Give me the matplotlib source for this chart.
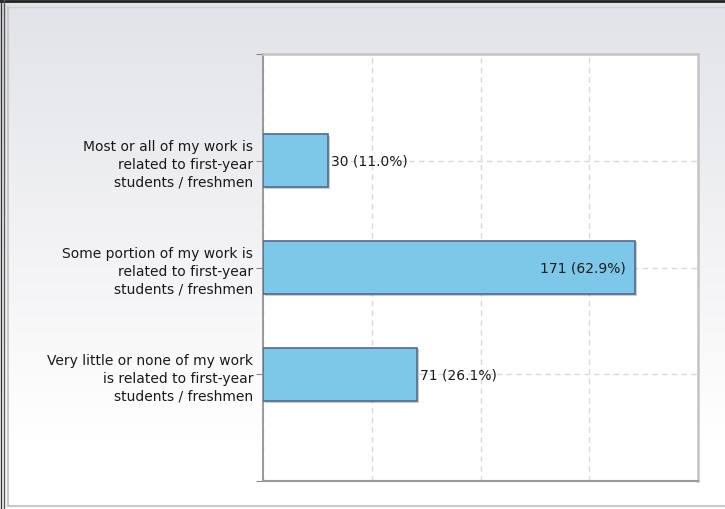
import numpy as np
import matplotlib
matplotlib.use("Agg")
import matplotlib.pyplot as plt
import matplotlib.patheffects as pe
from matplotlib.lines import Line2D

categories = [
    "Most or all of my work is\nrelated to first-year\nstudents / freshmen",
    "Some portion of my work is\nrelated to first-year\nstudents / freshmen",
    "Very little or none of my work\nis related to first-year\nstudents / freshmen",
]
counts = [30, 171, 71]
percents = [11.0, 62.9, 26.1]

plt.rcParams['font.family'] = ['DejaVu Sans']

W, H = 725, 510
fig = plt.figure(figsize=(W / 100, H / 100), dpi=100)

# background panel with vertical gradient
bg = fig.add_axes([0, 0, 1, 1], zorder=0)
grad = np.linspace(0, 1, 256).reshape(-1, 1)
top = np.array([0.886, 0.890, 0.910])
bot = np.array([1.0, 1.0, 1.0])
img = top[None, None, :] + (bot - top)[None, None, :] * np.clip(grad * 1.15, 0, 1)[:, :, None]
bg.imshow(img, aspect='auto', extent=[0, 1, 0, 1], origin='upper')
bg.set_xlim(0, 1)
bg.set_ylim(0, 1)
bg.axis('off')

# outer frame lines
fig.lines.append(Line2D([0, 1], [1 - 2 / H, 1 - 2 / H], transform=fig.transFigure, color='#222222', lw=2))
fig.lines.append(Line2D([1 / W, 1 / W], [0, 1], transform=fig.transFigure, color='#333333', lw=1))
fig.lines.append(Line2D([3.5 / W, 3.5 / W], [0, 1], transform=fig.transFigure, color='#555555', lw=1))
fig.lines.append(Line2D([7.5 / W, 7.5 / W], [1 - 507 / H, 1 - 8 / H], transform=fig.transFigure, color='#c8c8c8', lw=1.5))
fig.lines.append(Line2D([7.5 / W, 1], [1 - 507 / H, 1 - 507 / H], transform=fig.transFigure, color='#c8c8c8', lw=1.5))
fig.lines.append(Line2D([7.5 / W, 1], [1 - 8 / H, 1 - 8 / H], transform=fig.transFigure, color='#d0d0d0', lw=1))

left, right, ytop, ybot = 263, 698, 55, 482
ax = fig.add_axes([left / W, 1 - ybot / H, (right - left) / W, (ybot - ytop) / H], zorder=2)
ax.set_facecolor('white')

y = np.arange(len(categories))
bars = ax.barh(y, counts, height=0.5, color='#7dc8e9', edgecolor='#55688f',
               linewidth=1.2, zorder=3)
for b in bars:
    b.set_path_effects([pe.SimplePatchShadow(offset=(1.2, -1.2), alpha=0.25), pe.Normal()])

ax.set_xlim(0, 200)
ax.set_ylim(3, -1)
ax.set_xticks([0, 50, 100, 150, 200])
ax.set_xticklabels([])
ax.tick_params(axis='x', length=0)
ax.set_yticks([-1, 0, 1, 2, 3])
ax.set_yticklabels([''] + categories + [''], fontsize=10, color='#1a1a1a',
                   linespacing=1.32)
ax.tick_params(axis='y', length=5, color='#888888', pad=2)

ax.grid(True, color='#d9d9d9', linestyle=(0, (4, 3)), linewidth=1, zorder=0)
ax.set_axisbelow(True)

for s in ['top', 'right']:
    ax.spines[s].set_color('#c4c4c4')
    ax.spines[s].set_linewidth(1.8)
ax.spines['left'].set_color('#8a8a8a')
ax.spines['bottom'].set_color('#9a9a9a')
ax.spines['left'].set_linewidth(1.2)
ax.spines['bottom'].set_linewidth(1.5)

for i, (c, p) in enumerate(zip(counts, percents)):
    label = f"{c} ({p:.1f}%)"
    if c > 120:
        ax.text(c - 4, i, label, va='center', ha='right', fontsize=10, color='#1a1a1a', zorder=4)
    else:
        ax.text(c + 1.2, i, label, va='center', ha='left', fontsize=10, color='#1a1a1a', zorder=4)

fig.savefig('out.png', dpi=100)
